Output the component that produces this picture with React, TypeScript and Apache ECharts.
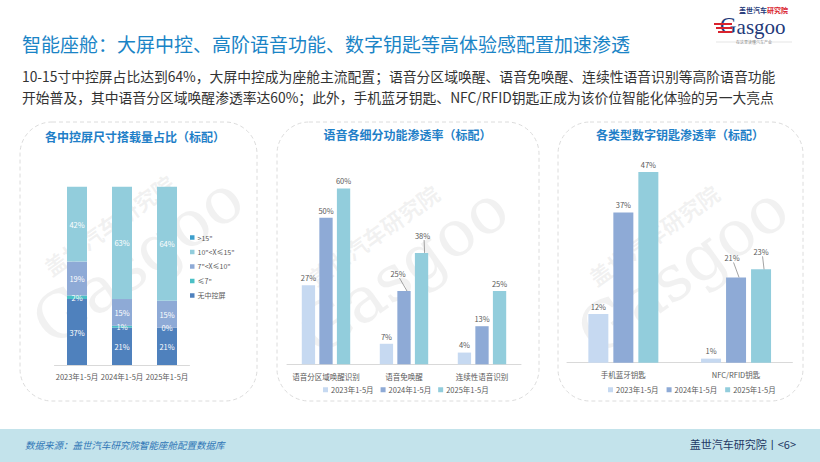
import React, { useEffect, useRef } from "react";
import * as echarts from "echarts";

const FONT = '"Noto Sans CJK SC", "Noto Sans", sans-serif';

// Left chart: screen size share
const screenCategories = ["2023年1-5月", "2024年1-5月", "2025年1-5月"];
const noScreen = [37, 21, 21];
const le7 = [2, 1, 0];
const s7to10 = [19, 15, 15];
const s10to15 = [42, 63, 64];
const gt15 = [0, 0, 0];
const screenLegend = ['>15"', '10"<X≤15"', '7"<X≤10"', '≤7"', "无中控屏"];

// Middle chart: voice functions
const voiceCategories = ["语音分区域唤醒识别", "语音免唤醒", "连续性语音识别"];
const voice2023 = [27, 7, 4];
const voice2024 = [50, 25, 13];
const voice2025 = [60, 38, 25];

// Right chart: digital keys
const keyCategories = ["手机蓝牙钥匙", "NFC/RFID钥匙"];
const key2023 = [12, 1];
const key2024 = [37, 21];
const key2025 = [47, 23];

const yearNames = ["2023年1-5月", "2024年1-5月", "2025年1-5月"];

const C23 = "#c6d9f1";
const C24 = "#8eaad6";
const C25 = "#92cddc";

export default function App() {
  const ref = useRef<HTMLDivElement>(null);
  useEffect(() => {
    if (!ref.current) return;
    const chart = echarts.init(ref.current, null, { renderer: "svg" });

    const VOICE_BW = 13.3;
    const VOICE_GAP = 4.3;
    const KEY_BW = 20;
    const KEY_GAP = 5;

    const stackLabel = {
      show: true,
      position: "inside",
      color: "#ffffff",
      fontSize: 7.5,
      fontFamily: FONT,
      formatter: "{c}%",
    };
    const topLabel = {
      show: true,
      position: "top",
      color: "#595959",
      fontSize: 7.5,
      fontFamily: FONT,
      formatter: "{c}%",
      distance: 4,
    };

    // label offsets (dx, dy) for a few moved labels, keyed by data index
    const voiceMoves: Record<string, Record<number, [number, number]>> = {
      "2024": { 1: [-6, -10] },
      "2025": { 1: [1, -10] },
    };
    const keyMoves: Record<string, Record<number, [number, number]>> = {
      "2024": { 1: [-4, -12] },
      "2025": { 1: [0, -10] },
    };

    const mkLayout = (moves: Record<number, [number, number]>) => (p: any) => {
      const m = moves[p.dataIndex];
      if (!m) return {};
      return { dx: m[0], dy: m[1] };
    };

    // leader lines from moved labels down to their bars
    const leaderSeries = (
      axis: number,
      values: number[][],
      moves: [number, number][],
      bw: number,
      gap: number
    ) => ({
      type: "custom",
      xAxisIndex: axis,
      yAxisIndex: axis,
      silent: true,
      z: 5,
      data: values,
      renderItem: (params: any, api: any) => {
        const cat = api.value(0);
        const v = api.value(1);
        const k = api.value(2);
        const mv = moves[params.dataIndex];
        const p = api.coord([cat, v]);
        const bx = p[0] + (k - 1) * (bw + gap);
        const top = p[1];
        const lx = bx + mv[0];
        const ly = top - 4 + mv[1];
        return {
          type: "line",
          shape: { x1: lx + 1.5, y1: ly + 1, x2: bx + 3, y2: top },
          style: { stroke: "#8c8c8c", lineWidth: 0.8 },
        };
      },
    });

    const catAxisCommon = {
      type: "category",
      axisLine: { lineStyle: { color: "#d9d9d9", width: 1 } },
      axisTick: { show: false },
      axisLabel: { color: "#595959", fontSize: 7.5, fontFamily: FONT, margin: 8, interval: 0 },
    };

    const panel = (x: number, w: number) => ({
      type: "rect",
      shape: { x, y: 122, width: w, height: 279, r: 32 },
      style: { fill: "none", stroke: "#dcdcdc", lineWidth: 1, lineDash: [4, 3] },
      z: 0,
    });

    const watermark = (x: number, y: number) => ({
      type: "group",
      x,
      y,
      rotation: 0.62,
      z: 100,
      silent: true,
      children: [
        {
          type: "text",
          x: 0,
          y: 0,
          style: {
            text: "Gasgoo",
            fontSize: 64,
            fontFamily: '"DejaVu Serif", serif',
            fill: "rgba(170,170,170,0.16)",
            textVerticalAlign: "middle",
          },
        },
        {
          type: "text",
          x: 40,
          y: -46,
          style: {
            text: "盖世汽车研究院",
            fontSize: 22,
            fontWeight: "bold",
            fontFamily: FONT,
            fill: "rgba(170,170,170,0.16)",
            textVerticalAlign: "middle",
          },
        },
      ],
    });

    const legendText = { color: "#595959", fontSize: 7.5, fontFamily: FONT, padding: [0, 0, 0, -2] };

    const option: any = {
      animation: false,
      textStyle: { fontFamily: FONT },
      grid: [
        { left: 54.5, width: 135, top: 186.7, height: 178.3 },
        { left: 287, width: 234, top: 71.3, height: 293 },
        { left: 567, width: 225.4, top: 159.7, height: 203 },
      ],
      xAxis: [
        { ...catAxisCommon, gridIndex: 0, data: screenCategories },
        { ...catAxisCommon, gridIndex: 1, data: voiceCategories },
        { ...catAxisCommon, gridIndex: 2, data: keyCategories },
      ],
      yAxis: [
        { type: "value", gridIndex: 0, min: 0, max: 100, show: false },
        { type: "value", gridIndex: 1, min: 0, max: 100, show: false },
        { type: "value", gridIndex: 2, min: 0, max: 50, show: false },
      ],
      legend: [
        {
          orient: "vertical",
          left: 185,
          top: 229,
          itemWidth: 4.5,
          itemHeight: 4.5,
          itemGap: 7.5,
          icon: "rect",
          data: screenLegend,
          textStyle: { color: "#595959", fontSize: 7, fontFamily: FONT, padding: [0, 0, 0, -2] },
        },
        {
          left: 318,
          top: 381,
          itemWidth: 5,
          itemHeight: 5,
          itemGap: 7,
          icon: "rect",
          data: yearNames,
          textStyle: legendText,
        },
        {
          left: 603,
          top: 381,
          itemWidth: 5,
          itemHeight: 5,
          itemGap: 8,
          icon: "rect",
          data: yearNames,
          textStyle: legendText,
        },
      ],
      series: [
        { name: "无中控屏", type: "bar", stack: "s", xAxisIndex: 0, yAxisIndex: 0, barWidth: 20, data: noScreen, itemStyle: { color: "#4f81bd" }, label: stackLabel },
        { name: '≤7"', type: "bar", stack: "s", xAxisIndex: 0, yAxisIndex: 0, barWidth: 20, data: le7, itemStyle: { color: "#4bc0c6" }, label: stackLabel },
        { name: '7"<X≤10"', type: "bar", stack: "s", xAxisIndex: 0, yAxisIndex: 0, barWidth: 20, data: s7to10, itemStyle: { color: C24 }, label: stackLabel },
        { name: '10"<X≤15"', type: "bar", stack: "s", xAxisIndex: 0, yAxisIndex: 0, barWidth: 20, data: s10to15, itemStyle: { color: C25 }, label: stackLabel },
        { name: '>15"', type: "bar", stack: "s", xAxisIndex: 0, yAxisIndex: 0, barWidth: 20, data: gt15, itemStyle: { color: "#3d9fcc" }, label: { show: false } },

        { name: yearNames[0], type: "bar", xAxisIndex: 1, yAxisIndex: 1, barWidth: VOICE_BW, barGap: "32%", data: voice2023, itemStyle: { color: C23 }, label: topLabel },
        { name: yearNames[1], type: "bar", xAxisIndex: 1, yAxisIndex: 1, barWidth: VOICE_BW, barGap: "32%", data: voice2024, itemStyle: { color: C24 }, label: topLabel, labelLayout: mkLayout(voiceMoves["2024"]) },
        { name: yearNames[2], type: "bar", xAxisIndex: 1, yAxisIndex: 1, barWidth: VOICE_BW, barGap: "32%", data: voice2025, itemStyle: { color: C25 }, label: topLabel, labelLayout: mkLayout(voiceMoves["2025"]) },
        leaderSeries(
          1,
          [
            [1, voice2024[1], 1],
            [1, voice2025[1], 2],
          ],
          [voiceMoves["2024"][1], voiceMoves["2025"][1]],
          VOICE_BW,
          VOICE_GAP
        ),

        { name: yearNames[0], type: "bar", xAxisIndex: 2, yAxisIndex: 2, barWidth: KEY_BW, barGap: "25%", data: key2023, itemStyle: { color: C23 }, label: topLabel },
        { name: yearNames[1], type: "bar", xAxisIndex: 2, yAxisIndex: 2, barWidth: KEY_BW, barGap: "25%", data: key2024, itemStyle: { color: C24 }, label: topLabel, labelLayout: mkLayout(keyMoves["2024"]) },
        { name: yearNames[2], type: "bar", xAxisIndex: 2, yAxisIndex: 2, barWidth: KEY_BW, barGap: "25%", data: key2025, itemStyle: { color: C25 }, label: topLabel, labelLayout: mkLayout(keyMoves["2025"]) },
        leaderSeries(
          2,
          [
            [1, key2024[1], 1],
            [1, key2025[1], 2],
          ],
          [keyMoves["2024"][1], keyMoves["2025"][1]],
          KEY_BW,
          KEY_GAP
        ),
      ],
      graphic: [
        panel(20, 237),
        panel(277, 262),
        panel(558, 245),
        {
          type: "text",
          left: 22,
          top: 34,
          style: { text: "智能座舱：大屏中控、高阶语音功能、数字钥匙等高体验感配置加速渗透", fontSize: 19, fontFamily: FONT, fill: "#1a84c6" },
        },
        {
          type: "text",
          left: 22,
          top: 65,
          style: {
            text: "10-15寸中控屏占比达到64%，大屏中控成为座舱主流配置；语音分区域唤醒、语音免唤醒、连续性语音识别等高阶语音功能\n开始普及，其中语音分区域唤醒渗透率达60%；此外，手机蓝牙钥匙、NFC/RFID钥匙正成为该价位智能化体验的另一大亮点",
            fontSize: 13.8,
            lineHeight: 21,
            fontFamily: FONT,
            fill: "#333333",
          },
        },
        {
          type: "text",
          x: 135,
          y: 136,
          style: { text: "各中控屏尺寸搭载量占比（标配）", fontSize: 12, fontWeight: "bold", fontFamily: FONT, fill: "#1f7fc8", textAlign: "center", textVerticalAlign: "middle" },
        },
        {
          type: "text",
          x: 407.5,
          y: 134,
          style: { text: "语音各细分功能渗透率（标配）", fontSize: 12, fontWeight: "bold", fontFamily: FONT, fill: "#1f7fc8", textAlign: "center", textVerticalAlign: "middle" },
        },
        {
          type: "text",
          x: 680,
          y: 134,
          style: { text: "各类型数字钥匙渗透率（标配）", fontSize: 12, fontWeight: "bold", fontFamily: FONT, fill: "#1f7fc8", textAlign: "center", textVerticalAlign: "middle" },
        },
        watermark(40, 330),
        watermark(305, 340),
        watermark(585, 340),
        // footer
        { type: "rect", shape: { x: 0, y: 429, width: 820, height: 33 }, style: { fill: "#c3e3eb" }, z: 1 },
        {
          type: "text",
          left: 25,
          top: 440,
          z: 2,
          style: { text: "数据来源：盖世汽车研究院智能座舱配置数据库", fontSize: 9.5, fontStyle: "italic", fontFamily: FONT, fill: "#2e75b6" },
        },
        {
          type: "text",
          right: 24,
          top: 438,
          z: 2,
          style: { text: "盖世汽车研究院丨<6>", fontSize: 11, fontFamily: FONT, fill: "#1f3864" },
        },
        // logo
        {
          type: "group",
          x: 714,
          y: 4,
          children: [
            {
              type: "text",
              x: 25,
              y: 2,
              style: {
                text: "{a|盖世汽车}{b|研究院}",
                rich: {
                  a: { fontSize: 7, fontWeight: "bold", fontFamily: FONT, fill: "#1f3a7a" },
                  b: { fontSize: 7, fontWeight: "bold", fontFamily: FONT, fill: "#d9232e" },
                },
              },
            },
            {
              type: "text",
              x: 6,
              y: 10,
              style: {
                text: "{g|G}{s|asgoo}",
                rich: {
                  g: { fontSize: 23, fontFamily: '"Liberation Serif", serif', fill: "#1f3a7a", verticalAlign: "bottom" },
                  s: { fontSize: 21, fontFamily: '"Liberation Serif", serif', fill: "#1f3a7a", verticalAlign: "bottom" },
                },
              },
            },
            { type: "rect", shape: { x: 0, y: 19, width: 18, height: 2 }, style: { fill: "#d9232e" } },
            { type: "rect", shape: { x: 2, y: 23, width: 16, height: 2 }, style: { fill: "#d9232e" } },
            { type: "rect", shape: { x: 4, y: 27, width: 14, height: 2 }, style: { fill: "#d9232e" } },
            { type: "line", shape: { x1: 2, y1: 38, x2: 78, y2: 38 }, style: { stroke: "#c8c8c8", lineWidth: 0.5 } },
            { type: "rect", shape: { x: 26, y: 35, width: 28, height: 6 }, style: { fill: "#ffffff" } },
            { type: "text", x: 40, y: 38, style: { text: "在这里读懂汽车产业", fontSize: 4, fontFamily: FONT, fill: "#888888", textAlign: "center", textVerticalAlign: "middle" } },
          ],
        },
      ],
    };
    chart.setOption(option);
    return () => chart.dispose();
  }, []);
  return (
    <div
      ref={ref}
      style={{ position: "fixed", left: 0, top: 0, width: 820, height: 462, background: "#ffffff" }}
    />
  );
}
